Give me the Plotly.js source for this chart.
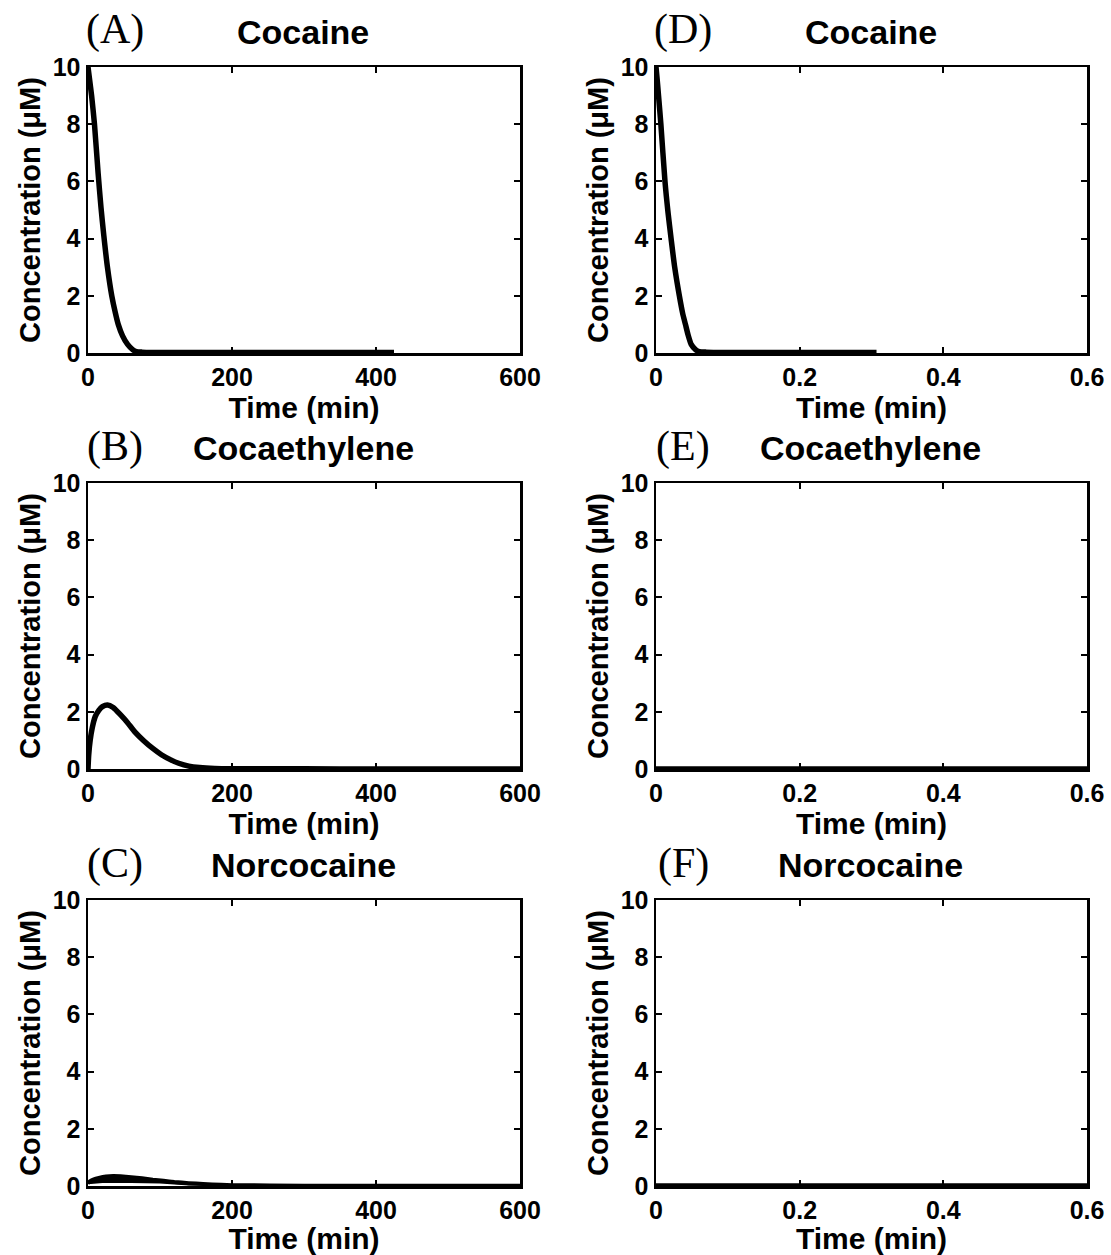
<!DOCTYPE html>
<html>
<head>
<meta charset="utf-8">
<script src="https://cdn.plot.ly/plotly-3.0.1.min.js"></script>
<style>
  html, body { margin: 0; padding: 0; background: #fff; }
  #chart { width: 1111px; height: 1255px; }
</style>
</head>
<body>
<div id="chart"></div>
<script>
// ---------- data ----------
const panelLetters = ["(A)", "(B)", "(C)", "(D)", "(E)", "(F)"];
const panelTitles = ["Cocaine", "Cocaethylene", "Norcocaine", "Cocaine", "Cocaethylene", "Norcocaine"];
const xTitle = "Time (min)";
const yTitle = "Concentration (μM)";

const leftTickVals = [0, 200, 400, 600];
const leftTickText = ["0", "200", "400", "600"];
const rightTickVals = [0, 0.2, 0.4, 0.6];
const rightTickText = ["0", "0.2", "0.4", "0.6"];
const yTickVals = [0, 2, 4, 6, 8, 10];

// (A) Cocaine, 0-600 min
const cocaineTimeA = [0, 2, 5, 9, 14, 18, 22, 27, 33, 38, 42, 48, 55, 62, 67, 75, 90, 150, 250, 350, 425];
const cocaineConcA = [10, 9.6, 9.0, 8.0, 6.3, 5.1, 4.1, 3.0, 2.0, 1.4, 1.0, 0.6, 0.3, 0.12, 0.05, 0.03, 0.02, 0.02, 0.02, 0.02, 0.02];

// (B) Cocaethylene, 0-600 min
const cocaethTimeB = [0, 1, 3, 6, 10, 15, 20, 27, 35, 45, 55, 65, 77, 90, 102, 115, 126, 140, 155, 176, 200, 300, 400, 500, 600];
const cocaethConcB = [0, 0.5, 1.0, 1.45, 1.83, 2.05, 2.18, 2.24, 2.15, 1.9, 1.62, 1.3, 1.0, 0.72, 0.5, 0.32, 0.2, 0.1, 0.05, 0.02, 0.01, 0.005, 0.003, 0.002, 0.002];

// (C) Norcocaine, 0-600 min (upper and lower edge of the drawn band)
const norcocTimeC = [0, 3, 8, 15, 25, 35, 45, 60, 75, 90, 105, 120, 140, 160, 185, 200, 300, 600];
const norcocConcC = [0.1, 0.17, 0.23, 0.28, 0.33, 0.35, 0.34, 0.31, 0.27, 0.22, 0.18, 0.14, 0.1, 0.07, 0.04, 0.03, 0.01, 0.005];
const norcocLowTimeC = [0, 20, 60, 100, 140, 200];
const norcocLowConcC = [0.1, 0.14, 0.14, 0.12, 0.05, 0.02];

// (D) Cocaine, 0-0.6 min
const cocaineTimeD = [0, 0.0015, 0.0035, 0.0068, 0.0125, 0.0168, 0.021, 0.026, 0.0325, 0.037, 0.041, 0.045, 0.049, 0.055, 0.06, 0.07, 0.1, 0.2, 0.307];
const cocaineConcD = [10, 9.6, 9.0, 8.0, 6.0, 4.9, 4.0, 3.0, 2.0, 1.4, 1.0, 0.6, 0.3, 0.12, 0.05, 0.03, 0.02, 0.02, 0.02];

// (E) Cocaethylene, 0-0.6 min
const cocaethTimeE = [0, 0.1, 0.2, 0.3, 0.4, 0.5, 0.6];
const cocaethConcE = [0, 0, 0, 0, 0, 0, 0];

// (F) Norcocaine, 0-0.6 min
const norcocTimeF = [0, 0.1, 0.2, 0.3, 0.4, 0.5, 0.6];
const norcocConcF = [0, 0, 0, 0, 0, 0, 0];

// ---------- layout geometry (pixels of the 1111x1255 page) ----------
const W = 1111, H = 1255;
const colPx = [[88, 520], [656, 1087]];
const rowPx = [[67, 353], [483, 769], [900, 1186]];
const FONT = "Liberation Sans, Arial, Helvetica, sans-serif";
const SERIF = "Liberation Serif, Times New Roman, serif";

const lineStyle = { color: "#000", width: 5.5, shape: "spline", smoothing: 0.6 };

const traces = [
  { x: cocaineTimeA, y: cocaineConcA, xaxis: "x", yaxis: "y", mode: "lines", line: lineStyle },
  { x: cocaethTimeB, y: cocaethConcB, xaxis: "x2", yaxis: "y2", mode: "lines", line: lineStyle },
  { x: norcocLowTimeC, y: norcocLowConcC, xaxis: "x3", yaxis: "y3", mode: "lines", line: { color: "#000", width: 2 } },
  { x: norcocTimeC, y: norcocConcC, xaxis: "x3", yaxis: "y3", mode: "lines", line: { color: "#000", width: 4, shape: "spline", smoothing: 0.5 }, fill: "tonexty", fillcolor: "#000" },
  { x: cocaineTimeD, y: cocaineConcD, xaxis: "x4", yaxis: "y4", mode: "lines", line: lineStyle },
  { x: cocaethTimeE, y: cocaethConcE, xaxis: "x5", yaxis: "y5", mode: "lines", line: { color: "#000", width: 5.5 } },
  { x: norcocTimeF, y: norcocConcF, xaxis: "x6", yaxis: "y6", mode: "lines", line: { color: "#000", width: 5.5 } }
];

const layout = {
  width: W, height: H,
  margin: { l: 0, r: 0, t: 0, b: 0 },
  paper_bgcolor: "#fff", plot_bgcolor: "#fff",
  showlegend: false,
  font: { family: FONT, color: "#000" },
  annotations: []
};

function axisCommon() {
  return {
    showline: true, linewidth: 2.5, linecolor: "#000", mirror: "ticks",
    ticks: "inside", ticklen: 6, tickwidth: 2, tickcolor: "#000",
    showgrid: false, zeroline: false, fixedrange: true,
    tickfont: { family: FONT, size: 25, weight: "bold", color: "#000" }
  };
}

for (let c = 0; c < 2; c++) {
  for (let r = 0; r < 3; r++) {
    const i = c * 3 + r;
    const n = i + 1;
    const xk = n === 1 ? "xaxis" : "xaxis" + n;
    const yk = n === 1 ? "yaxis" : "yaxis" + n;
    const xd = [colPx[c][0] / W, colPx[c][1] / W];
    const yd = [1 - rowPx[r][1] / H, 1 - rowPx[r][0] / H];
    layout[xk] = Object.assign(axisCommon(), {
      domain: xd,
      anchor: n === 1 ? "y" : "y" + n,
      range: c === 0 ? [0, 600] : [0, 0.6],
      tickmode: "array",
      tickvals: c === 0 ? leftTickVals : rightTickVals,
      ticktext: c === 0 ? leftTickText : rightTickText,
      title: { text: xTitle, font: { family: FONT, size: 30, weight: "bold", color: "#000" }, standoff: 2 }
    });
    layout[yk] = Object.assign(axisCommon(), {
      domain: yd,
      anchor: n === 1 ? "x" : "x" + n,
      range: [0, 10],
      tickmode: "array",
      tickvals: yTickVals,
      ticktext: yTickVals.map(String),
      title: { text: yTitle, font: { family: FONT, size: 29, weight: "bold", color: "#000" }, standoff: 4 }
    });
    const cx = (colPx[c][0] + colPx[c][1]) / 2;
    const ty = rowPx[r][0] - 35;
    layout.annotations.push({
      xref: "paper", yref: "paper", x: (cx - 1) / W, y: 1 - ty / H,
      xanchor: "center", yanchor: "middle", showarrow: false,
      text: panelTitles[i],
      font: { family: FONT, size: 34, weight: "bold", color: "#000" }
    });
    layout.annotations.push({
      xref: "paper", yref: "paper", x: (colPx[c][0] + 27) / W, y: 1 - (rowPx[r][0] - 37) / H,
      xanchor: "center", yanchor: "middle", showarrow: false,
      text: panelLetters[i],
      font: { family: SERIF, size: 42, color: "#000" }
    });
  }
}

Plotly.newPlot("chart", traces, layout, { staticPlot: true, displayModeBar: false });
</script>
</body>
</html>
